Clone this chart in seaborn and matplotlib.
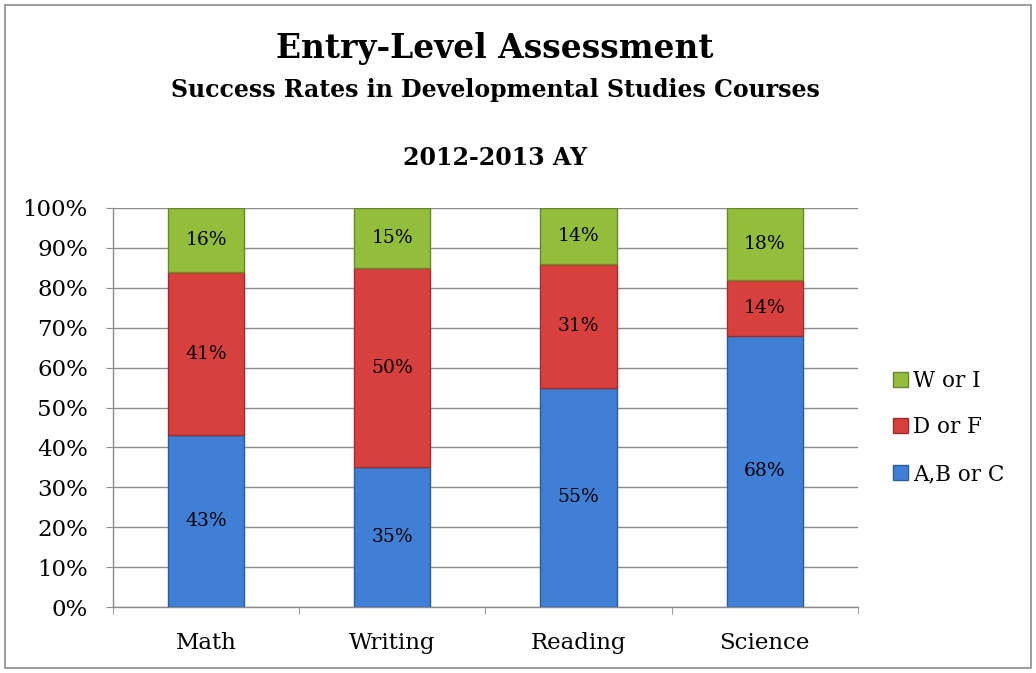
import matplotlib
matplotlib.use("Agg")
import matplotlib.pyplot as plt
from matplotlib.patches import Rectangle
from matplotlib.ticker import FixedLocator, PercentFormatter
import seaborn as sns

courses = ["Math", "Writing", "Reading", "Science"]
abc = [43, 35, 55, 68]
d_or_f = [41, 50, 31, 14]
w_or_i = [16, 15, 14, 18]

sns.set_style("white")
plt.rcParams['font.family'] = ['DejaVu Serif']
plt.rcParams['text.color'] = 'black'
plt.rcParams['xtick.color'] = 'black'
plt.rcParams['ytick.color'] = 'black'

fig, ax = plt.subplots(figsize=(10.36, 6.73), dpi=100)
fig.subplots_adjust(left=0.109, right=0.828, bottom=0.098, top=0.691)

bottom_df = abc
bottom_wi = [a + b for a, b in zip(abc, d_or_f)]

series = [
    ("A,B or C", abc, None, "#3F80D6", "#2C5C9C"),
    ("D or F", d_or_f, bottom_df, "#D8403E", "#9E2C2A"),
    ("W or I", w_or_i, bottom_wi, "#93BE3B", "#66872A"),
]
for name, vals, bot, col, edge in series:
    kw = {} if bot is None else {"bottom": bot}
    sns.barplot(x=courses, y=vals, color=col, saturation=1, width=0.41, ax=ax,
                label=name, edgecolor=edge, linewidth=1.0, zorder=3, **kw)

for cont in ax.containers:
    ax.bar_label(cont, labels=[f"{int(round(b.get_height()))}%" for b in cont],
                 label_type="center", fontsize=13.5, color="black")

ax.set_ylim(0, 100)
ax.set_xlim(-0.5, 3.5)
ax.set_yticks(range(0, 101, 10))
ax.yaxis.set_major_formatter(PercentFormatter(decimals=0))
ax.yaxis.grid(True, color="#8c8c8c", linewidth=1.0, zorder=0)
ax.set_axisbelow(True)
ax.tick_params(axis="y", labelsize=16.5, length=5, color="#8c8c8c", left=True, pad=13,
               labelcolor="black")
ax.tick_params(axis="x", which="major", labelsize=16.5, length=0, pad=18,
               labelcolor="black")
ax.xaxis.set_minor_locator(FixedLocator([-0.5, 0.5, 1.5, 2.5, 3.5]))
ax.tick_params(axis="x", which="minor", length=5, color="#8c8c8c", bottom=True)
ax.set_xlabel("")
ax.set_ylabel("")
for s in ["top", "right"]:
    ax.spines[s].set_visible(False)
for s in ["left", "bottom"]:
    ax.spines[s].set_color("#8c8c8c")
    ax.spines[s].set_linewidth(1.0)

handles, labels = ax.get_legend_handles_labels()
ax.legend(handles[::-1], labels[::-1], loc="center left", bbox_to_anchor=(1.021, 0.45),
          frameon=False, fontsize=15.5, handlelength=0.7, handleheight=0.7,
          handletextpad=0.25, labelspacing=1.15, labelcolor="black")

fig.text(0.478, 0.928, "Entry-Level Assessment", ha="center", va="center",
         fontsize=23.7, fontweight="bold", color="black")
fig.text(0.478, 0.867, "Success Rates in Developmental Studies Courses", ha="center",
         va="center", fontsize=17, fontweight="bold", color="black")
fig.text(0.478, 0.765, "2012-2013 AY", ha="center", va="center",
         fontsize=17, fontweight="bold", color="black")

fig.patches.append(Rectangle((5 / 1036, 5 / 673), 1026 / 1036, 663 / 673,
                             transform=fig.transFigure, fill=False,
                             edgecolor="#8c8c8c", linewidth=1.2))

fig.savefig("out.png", dpi=100)
